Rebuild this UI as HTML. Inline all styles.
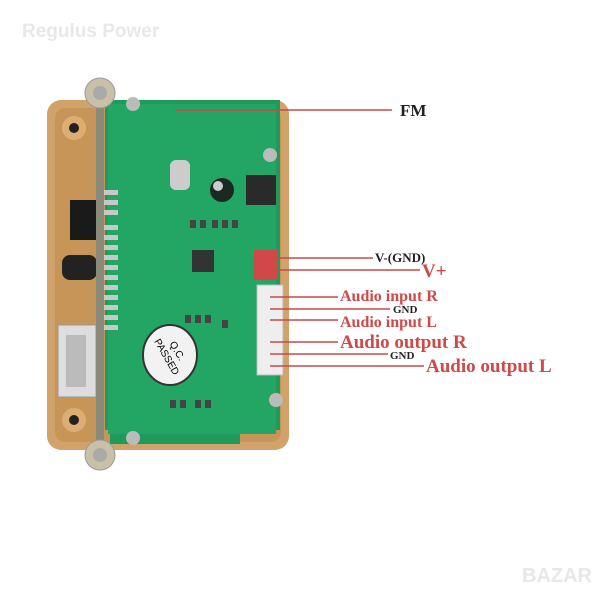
<!DOCTYPE html>
<html><head><style>body{margin:0;background:#fff}svg{display:block}.b{font-weight:bold;font-family:"Liberation Serif",serif}</style></head><body>
<svg width="600" height="600" viewBox="0 0 600 600" xmlns="http://www.w3.org/2000/svg" font-family="Liberation Serif, serif">
<rect width="600" height="600" fill="#fff"/>
<text x="22" y="37" font-family="Liberation Sans, sans-serif" font-size="19" font-weight="bold" fill="#e8e8e8">Regulus Power</text>
<text x="522" y="582" font-family="Liberation Sans, sans-serif" font-size="20" font-weight="bold" fill="#e8e8e8">BAZAR</text>
<rect x="47" y="100" width="242" height="350" rx="14" fill="#d1a36a"/>
<rect x="55" y="108" width="226" height="334" rx="10" fill="#c89558"/>
<circle cx="74" cy="128" r="12" fill="#dcae74"/><circle cx="74" cy="128" r="5" fill="#222"/>
<circle cx="260" cy="128" r="12" fill="#dcae74"/><circle cx="260" cy="128" r="5" fill="#222"/>
<circle cx="74" cy="420" r="12" fill="#dcae74"/><circle cx="74" cy="420" r="5" fill="#222"/>
<circle cx="260" cy="420" r="12" fill="#dcae74"/><circle cx="260" cy="420" r="5" fill="#222"/>
<rect x="70" y="200" width="30" height="40" fill="#1a1a1a"/>
<rect x="62" y="255" width="35" height="25" rx="8" fill="#222"/>
<rect x="58" y="325" width="38" height="72" fill="#ddd" stroke="#999"/>
<rect x="66" y="335" width="20" height="52" fill="#bbb"/>
<path d="M105 100 H280 V430 H240 V444 H110 V430 H105 Z" fill="#1f9a5c"/>
<rect x="108" y="104" width="168" height="330" fill="#23a563"/>
<g fill="#c8c8c8">
<rect x="100" y="190" width="18" height="5"/><rect x="100" y="200" width="18" height="5"/><rect x="100" y="210" width="18" height="5"/>
<rect x="100" y="225" width="18" height="5"/><rect x="100" y="235" width="18" height="5"/><rect x="100" y="245" width="18" height="5"/>
<rect x="100" y="255" width="18" height="5"/><rect x="100" y="265" width="18" height="5"/><rect x="100" y="275" width="18" height="5"/>
<rect x="100" y="285" width="18" height="5"/><rect x="100" y="295" width="18" height="5"/><rect x="100" y="305" width="18" height="5"/>
<rect x="100" y="315" width="18" height="5"/><rect x="100" y="325" width="18" height="5"/>
</g>
<rect x="96" y="95" width="8" height="360" fill="#8a8a7a"/>
<circle cx="100" cy="93" r="15" fill="#c9c0a8" stroke="#999"/><circle cx="100" cy="93" r="7" fill="#aaa"/>
<circle cx="100" cy="455" r="15" fill="#c9c0a8" stroke="#999"/><circle cx="100" cy="455" r="7" fill="#aaa"/>
<circle cx="133" cy="104" r="7" fill="#bbb"/><circle cx="133" cy="438" r="7" fill="#bbb"/>
<circle cx="270" cy="155" r="7" fill="#bbb"/><circle cx="276" cy="400" r="7" fill="#bbb"/>
<rect x="170" y="160" width="20" height="30" rx="6" fill="#ccc"/>
<circle cx="222" cy="190" r="12" fill="#1a2a20"/><circle cx="218" cy="186" r="5" fill="#ccc"/>
<rect x="246" y="175" width="30" height="30" fill="#2a2a2a"/>
<rect x="192" y="250" width="22" height="22" fill="#333"/>
<ellipse cx="170" cy="355" rx="27" ry="30" fill="#f2f2f2" stroke="#333" stroke-width="2"/>
<text x="170" y="350" font-family="Liberation Sans, sans-serif" font-size="10" text-anchor="middle" transform="rotate(60 170 355)">Q.C.</text>
<text x="170" y="362" font-family="Liberation Sans, sans-serif" font-size="10" text-anchor="middle" transform="rotate(60 170 355)">PASSED</text>
<g fill="#444">
<rect x="190" y="220" width="6" height="8"/><rect x="200" y="220" width="6" height="8"/><rect x="212" y="220" width="6" height="8"/><rect x="222" y="220" width="6" height="8"/><rect x="232" y="220" width="6" height="8"/>
<rect x="185" y="315" width="6" height="8"/><rect x="195" y="315" width="6" height="8"/><rect x="205" y="315" width="6" height="8"/><rect x="222" y="320" width="6" height="8"/>
<rect x="170" y="400" width="6" height="8"/><rect x="180" y="400" width="6" height="8"/><rect x="195" y="400" width="6" height="8"/><rect x="205" y="400" width="6" height="8"/>
</g>
<rect x="254" y="250" width="24" height="30" fill="#d04848"/>
<rect x="257" y="285" width="26" height="90" fill="#eee" stroke="#bbb"/>
<g stroke="#c8484a" stroke-width="1.5">
<line x1="175" y1="110" x2="392" y2="110"/>
<line x1="272" y1="258" x2="373" y2="258"/>
<line x1="272" y1="270" x2="420" y2="270"/>
<line x1="270" y1="297" x2="338" y2="297"/>
<line x1="270" y1="309" x2="390" y2="309"/>
<line x1="270" y1="320" x2="338" y2="320"/>
<line x1="270" y1="342" x2="338" y2="342"/>
<line x1="270" y1="354" x2="388" y2="354"/>
<line x1="270" y1="366" x2="424" y2="366"/>
</g>
<text class="b" x="400" y="116" font-size="17" fill="#222">FM</text>
<text class="b" x="375" y="262" font-size="13" fill="#222">V-(GND)</text>
<text class="b" x="422" y="277" font-size="19" fill="#d04848">V+</text>
<text class="b" x="340" y="301" font-size="16" fill="#d04848">Audio input R</text>
<text class="b" x="393" y="313" font-size="11" fill="#222">GND</text>
<text class="b" x="340" y="327" font-size="16" fill="#d04848">Audio input L</text>
<text class="b" x="340" y="348" font-size="19" fill="#d04848">Audio output R</text>
<text class="b" x="390" y="359" font-size="11" fill="#222">GND</text>
<text class="b" x="426" y="372" font-size="19" fill="#d04848">Audio output L</text>
</svg>
</body></html>
